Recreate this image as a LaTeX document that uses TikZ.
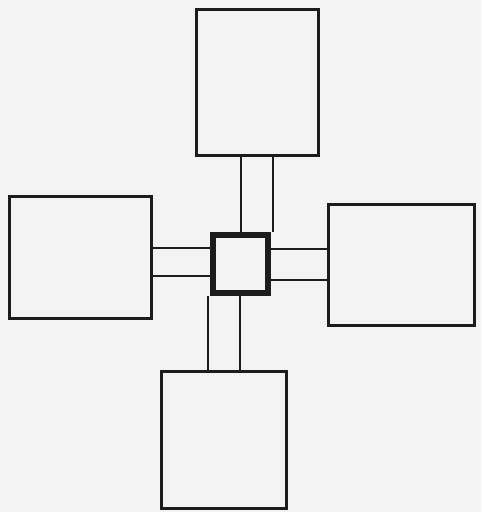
\documentclass[tikz,border=0pt]{standalone}
\usetikzlibrary{positioning}
\definecolor{paper}{RGB}{243,243,243}
\definecolor{ink}{RGB}{28,28,28}

\begin{document}
\begin{tikzpicture}[
    x=0.5mm, y=-0.5mm,
    room/.style={draw=ink, line width=1.5pt*2.8, inner sep=0pt},
    hub/.style={draw=ink, line width=8pt, inner sep=0pt, minimum width=27.7mm, minimum height=29.2mm},
    hall/.style={draw=ink, line width=2.6pt},
]
    % paper
    \fill[paper] (0,0) rectangle (481,512);
    \useasboundingbox (0,0) rectangle (481,512);

    % central square
    \node[hub] (hub) at (240.5,264) {};

    % the four rooms
    \node[room, minimum width=61mm, minimum height=73mm] (top) at (257.5,82.5) {};
    \node[room, minimum width=71mm, minimum height=61mm] (left) at (80.5,257.5) {};
    \node[room, minimum width=73mm, minimum height=60.5mm] (right) at (401.5,265) {};
    \node[room, minimum width=62.5mm, minimum height=68.5mm] (bottom) at (224,440) {};

    % corridors
    \draw[hall] ([xshift=0.25mm]hub.north) -- ([xshift=0.25mm]hub.north |- top.south);
    \draw[hall] ([xshift=16.25mm]hub.north) -- ([xshift=16.25mm]hub.north |- top.south);

    \draw[hall] ([xshift=-16.25mm]hub.south) -- ([xshift=-16.25mm]hub.south |- bottom.north);
    \draw[hall] ([xshift=-0.25mm]hub.south) -- ([xshift=-0.25mm]hub.south |- bottom.north);

    \draw[hall] ([yshift=8mm]hub.west) -- ([yshift=8mm]hub.west -| left.east);
    \draw[hall] ([yshift=-6mm]hub.west) -- ([yshift=-6mm]hub.west -| left.east);

    \draw[hall] ([yshift=7.5mm]hub.east) -- ([yshift=7.5mm]hub.east -| right.west);
    \draw[hall] ([yshift=-8mm]hub.east) -- ([yshift=-8mm]hub.east -| right.west);
\end{tikzpicture}
\end{document}
